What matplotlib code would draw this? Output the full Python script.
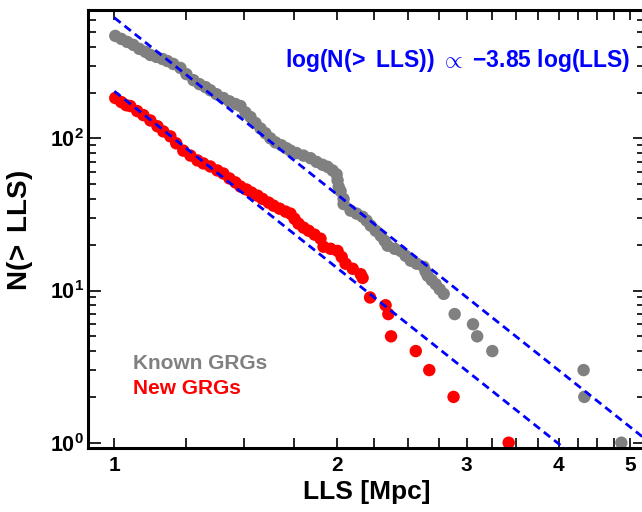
import numpy as np
import matplotlib
matplotlib.use('Agg')
import matplotlib.pyplot as plt
from matplotlib.ticker import FixedLocator, NullFormatter

plt.rcParams['font.family'] = 'Liberation Sans'
plt.rcParams['font.weight'] = 'bold'
plt.rcParams['mathtext.fontset'] = 'custom'
plt.rcParams['mathtext.rm'] = 'Liberation Sans'
plt.rcParams['mathtext.it'] = 'Liberation Sans:italic'
plt.rcParams['mathtext.bf'] = 'Liberation Sans:bold'

# cumulative counts, known GRGs
known_lls = [1.003, 1.022, 1.041, 1.061, 1.081, 1.102, 1.119, 1.140, 1.162, 1.180,
             1.202, 1.229, 1.252, 1.280, 1.304, 1.329, 1.349, 1.375, 1.405, 1.432,
             1.459, 1.482, 1.505, 1.529, 1.553, 1.578, 1.602, 1.627, 1.653, 1.684,
             1.711, 1.732, 1.765, 1.804, 1.844, 1.879, 1.914, 1.944, 1.975, 2.000,
             2.006, 2.013, 2.025, 2.044, 2.044, 2.089, 2.129, 2.169, 2.196, 2.224,
             2.259, 2.295, 2.323, 2.345, 2.397, 2.442, 2.480, 2.520, 2.567, 2.624,
             2.640, 2.657, 2.690, 2.724, 2.758, 2.793,
             2.89, 3.06, 3.10, 3.25, 4.32, 4.33, 4.86]
known_n = [471, 450, 430, 411, 387, 370, 353, 343, 332, 322,
           308, 290, 264, 241, 227, 217, 207, 195, 184, 175,
           168, 163, 148, 138, 126, 116, 108, 100, 94, 90,
           86, 83, 80, 77, 74, 70, 67, 65, 61.5, 58,
           53, 48, 45, 40, 37, 33.5, 32, 30.5, 28.8, 26.7,
           24.7, 22.9, 21.2, 19.7, 18.8, 18.2, 16.9, 15.7, 15.0, 14.3,
           13.3, 12.5, 11.7, 11.0, 10.2, 9.5,
           7, 6, 5, 4, 3, 2, 1]

# new GRGs
new_lls = [1.003, 1.022, 1.038, 1.051, 1.074, 1.095, 1.119, 1.144, 1.165, 1.191,
           1.213, 1.240, 1.268, 1.296, 1.320, 1.349, 1.379, 1.405, 1.432, 1.459,
           1.482, 1.510, 1.534, 1.563, 1.587, 1.618, 1.643, 1.674, 1.706, 1.732,
           1.754, 1.776, 1.804, 1.833, 1.867, 1.902, 1.920, 1.963, 2.006, 2.032,
           2.057, 2.103, 2.156, 2.169,
           2.22, 2.33, 2.35, 2.37, 2.56, 2.67, 2.88, 3.42]
new_n = [184, 173, 165, 163, 151, 142, 131, 120, 111, 103,
         92.7, 83, 77, 71.6, 68.4, 65.3, 61.5, 58.7, 54.5, 51.3,
         48.2, 46.1, 44, 42, 40, 37.8, 36.1, 34.5, 33, 32,
         29.6, 27.5, 25.9, 24.7, 23.3, 21.9, 19.4, 18.8, 18.2, 16.6,
         15, 13.9, 12.8, 12.1,
         9, 8, 7, 5, 4, 3, 2, 1]

# power-law guides
slope = -3.85
norm_known = 620
norm_new = 204
fit_lls = np.array([1.0, 6.0])

fig = plt.figure(figsize=(6.42, 5.12), dpi=100)
ax = fig.add_axes([0.1375, 0.125, 0.867, 0.8555])

ax.scatter(known_lls, known_n, s=80, color='#808080', edgecolors='none', zorder=2)
ax.scatter(new_lls, new_n, s=80, color='#ff0000', edgecolors='none', zorder=2)

for norm in [norm_known, norm_new]:
    ax.plot(fit_lls, norm * fit_lls ** slope, color='#0000ff', lw=2.0,
            dashes=(2.9, 1.8), zorder=3)

ax.set_xscale('log')
ax.set_yscale('log')
ax.set_xlim(0.922, 5.23)
ax.set_ylim(0.923, 697)

ax.xaxis.set_major_locator(FixedLocator([1, 2, 3, 4, 5]))
ax.xaxis.set_minor_locator(FixedLocator([1.25, 1.5, 1.75, 2.25, 2.5, 2.75,
                                         3.25, 3.5, 3.75, 4.25, 4.5, 4.75]))
ax.set_xticklabels(['1', '2', '3', '4', '5'])
ax.xaxis.set_minor_formatter(NullFormatter())

ax.set_yticks([1, 10, 100])
ax.set_yticklabels([r'$\mathbf{10^0}$', r'$\mathbf{10^1}$', r'$\mathbf{10^2}$'])
ax.yaxis.set_minor_locator(FixedLocator([m * d for d in [1, 10, 100] for m in range(2, 10)]))
ax.yaxis.set_minor_formatter(NullFormatter())

ax.tick_params(which='both', direction='in', top=True, right=True, width=1.2,
               colors='black')
ax.tick_params(axis='x', which='both', length=7.5, pad=6, labelsize=15)
ax.tick_params(axis='y', which='major', length=9, pad=3, labelsize=15.5)
ax.tick_params(axis='y', which='minor', length=6)
for sp in ax.spines.values():
    sp.set_linewidth(2.2)

ax.set_xlabel('LLS [Mpc]', fontsize=19, fontweight='bold')
ax.xaxis.set_label_coords(0.5, -0.072)
fig.text(20 / 642, 1 - 230 / 512, r'N($\!>$ LLS)', rotation=90, fontsize=20,
         fontweight='bold', ha='center', va='center')

ax.text(0.353, 0.870, r'log(N($\!>$ LLS)) $\propto$ $-$3.85 log(LLS)', transform=ax.transAxes,
        color='#0000ff', fontsize=16.5, fontweight='bold', va='baseline', ha='left')
ax.text(0.08, 0.18, 'Known GRGs', transform=ax.transAxes, color='#808080',
        fontsize=15, fontweight='bold', va='baseline')
ax.text(0.08, 0.123, 'New GRGs', transform=ax.transAxes, color='#ff0000',
        fontsize=15, fontweight='bold', va='baseline')

fig.savefig('out.png', dpi=100)
